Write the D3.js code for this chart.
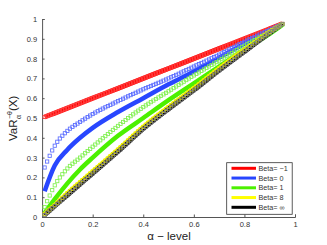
<!DOCTYPE html>
<html><head><meta charset="utf-8">
<script src="https://cdn.jsdelivr.net/npm/d3@7"></script>
<style>body{margin:0;background:#fff}svg{display:block}</style>
</head><body>
<svg id="c" width="327" height="245"></svg>
<script>
const alpha = [0.01,0.05,0.1,0.15,0.2,0.3,0.4,0.5,0.6,0.7,0.8,0.9,0.95];
const redLine   = [0.505,0.525,0.55,0.575,0.6,0.65,0.7,0.75,0.8,0.85,0.9,0.95,0.975];
const blueLine  = [0.13,0.26,0.34,0.40,0.45,0.53,0.60,0.67,0.735,0.805,0.875,0.94,0.973];
const blueMark  = [0.25,0.36,0.435,0.48,0.52,0.585,0.645,0.70,0.76,0.82,0.885,0.945,0.975];
const greenLine = [0.02,0.09,0.17,0.24,0.30,0.41,0.50,0.59,0.675,0.76,0.845,0.925,0.97];
const greenMark = [0.05,0.16,0.245,0.30,0.355,0.46,0.555,0.635,0.715,0.79,0.865,0.935,0.972];
const yellowLine= [0.015,0.06,0.12,0.175,0.23,0.34,0.455,0.555,0.65,0.75,0.845,0.935,0.975];
const blackLine = [0.01,0.055,0.11,0.165,0.22,0.33,0.445,0.545,0.64,0.74,0.835,0.93,0.975];
const legendLabels = ["Beta= \u22121","Beta= 0","Beta= 1","Beta= 8","Beta= \u221e"];
const xTicks = [0,0.2,0.4,0.6,0.8,1];
const yTicks = [0,0.1,0.2,0.3,0.4,0.5,0.6,0.7,0.8,0.9,1];

const colors = ["#ff0000","#2846ff","#4cf000","#ffff00","#000000"];
const markColors = ["#ff4040","#5a6cff","#80f050","#e8e800","#808080"];

const svg = d3.select("#c");
const x = d3.scaleLinear().domain([0,1]).range([42.1,295]);
const y = d3.scaleLinear().domain([0,1]).range([217,19]);
const font = "Liberation Sans, Arial, sans-serif";

const ax = svg.append("g").attr("transform","translate(0,217)")
  .call(d3.axisBottom(x).tickValues(xTicks).tickSize(-2.5).tickPadding(5).tickFormat(d3.format("~g")));
const ay = svg.append("g").attr("transform","translate(42.1,0)")
  .call(d3.axisLeft(y).tickValues(yTicks).tickSize(-2.5).tickPadding(5).tickFormat(d3.format("~g")));
[ax,ay].forEach(g=>{
  g.select(".domain").attr("stroke","#555").attr("stroke-width",1);
  g.selectAll(".tick line").attr("stroke","#555");
  g.selectAll(".tick text").attr("fill","#333").attr("font-family",font).attr("font-size",7.5);
});

const line = d3.line().x((d,i)=>x(alpha[i])).y(d=>y(d)).curve(d3.curveMonotoneX);

const lines = [redLine, blueLine, greenLine, yellowLine, blackLine];
const marks = [redLine, blueMark, greenMark, yellowLine, blackLine];

lines.forEach((vals,k)=>{
  svg.append("path").attr("d",line(vals)).attr("fill","none")
    .attr("stroke",colors[k]).attr("stroke-width",k==0?5:4.5);
});

// marker series: hollow squares along each curve, every 0.01 in alpha
const grid = d3.range(1,96).map(i=>i/100);
marks.forEach((vals,k)=>{
  const p = svg.append("path").attr("d",line(vals)).attr("fill","none").attr("stroke","none");
  const node = p.node(); const L = node.getTotalLength();
  const pts = grid.map(a=>{
    const tx = x(a); let lo=0, hi=L;
    for(let it=0;it<30;it++){const m=(lo+hi)/2; if(node.getPointAtLength(m).x<tx) lo=m; else hi=m;}
    return node.getPointAtLength((lo+hi)/2);
  });
  svg.append("g").selectAll("rect").data(pts).join("rect")
    .attr("x",d=>d.x-1.6).attr("y",d=>d.y-1.6).attr("width",3.2).attr("height",3.2)
    .attr("fill","none").attr("stroke",markColors[k]).attr("stroke-width",0.85);
});

// legend
const lg = svg.append("g");
lg.append("rect").attr("x",226.7).attr("y",162.7).attr("width",65.5).attr("height",51.6)
  .attr("fill","#fff").attr("stroke","#333").attr("stroke-width",0.8);
legendLabels.forEach((t,i)=>{
  const yy = 168.3 + i*9.75;
  lg.append("line").attr("x1",231.5).attr("x2",256).attr("y1",yy).attr("y2",yy)
    .attr("stroke",colors[i]).attr("stroke-width",3);
  lg.append("text").attr("x",258.5).attr("y",yy+2.6).text(t)
    .attr("font-family",font).attr("font-size",7.2).attr("fill","#333");
});

svg.append("text").attr("x",169).attr("y",240).attr("text-anchor","middle")
  .attr("font-family",font).attr("font-size",11.5).attr("fill","#222").text("\u03b1 \u2212 level");
const yl = svg.append("g").attr("transform","translate(17,118) rotate(-90)");
yl.append("text").attr("x",-23).attr("y",0).attr("font-family",font).attr("font-size",11.5).attr("fill","#222").text("VaR");
yl.append("text").attr("x",-1).attr("y",-5.5).attr("font-family",font).attr("font-size",7).attr("fill","#222").text("\u2212\u03b8");
yl.append("text").attr("x",-1).attr("y",4).attr("font-family",font).attr("font-size",7).attr("fill","#222").text("\u03b1");
yl.append("text").attr("x",7).attr("y",0).attr("font-family",font).attr("font-size",11.5).attr("fill","#222").text("(X)");
</script>
</body></html>
